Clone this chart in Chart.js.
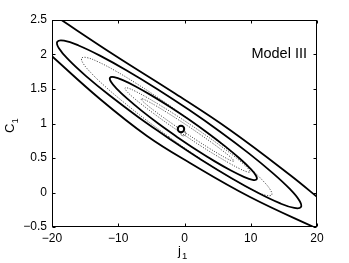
<!DOCTYPE html>
<html>
<head>
<meta charset="utf-8">
<script src="https://cdn.jsdelivr.net/npm/chart.js@4.4.1/dist/chart.umd.min.js"></script>
<style>
html,body{margin:0;padding:0;background:#fff;}
#wrap{width:349px;height:263px;}
</style>
</head>
<body>
<div id="wrap"><canvas id="c" width="349" height="263"></canvas></div>
<script>
// ---- data ----
const xTicks = [-20, -10, 0, 10, 20];
const yTicks = [-0.5, 0, 0.5, 1, 1.5, 2, 2.5];
const xRange = [-20, 20];
const yRange = [-0.5, 2.5];
const panelLabel = "Model III";

// outermost solid contour (only its two long sides are inside the frame)
const outerUpper = [[-19.55,2.562],[-10.49,1.986],[-1.43,1.435],[6.87,0.906],[15.93,0.254],[20.76,-0.123]];
const outerLower = [[-20.30,2.0],[-12.76,1.355],[-5.66,0.819],[0.83,0.428],[9.89,-0.065],[20.45,-0.543]];

// second solid contour
const contour2 = [[-2.292,0.778],[-7.001,1.095],[-11.288,1.405],[-14.862,1.687],[-17.477,1.921],[-18.957,2.091],
  [-19.2,2.186],[-18.189,2.2],[-15.995,2.131],[-12.766,1.984],[-8.722,1.769],[-4.138,1.501],[0.672,1.198],
  [5.381,0.881],[9.668,0.571],[13.242,0.289],[15.857,0.056],[17.337,-0.115],[17.58,-0.21],[16.57,-0.224],
  [14.375,-0.155],[11.146,-0.008],[7.102,0.207],[2.518,0.475],[-2.292,0.778]];

// inner solid contour
const contour3 = [[-1.077,0.802],[-3.911,0.997],[-6.491,1.187],[-8.64,1.36],[-10.212,1.503],[-11.101,1.606],
  [-11.244,1.664],[-10.633,1.671],[-9.31,1.628],[-7.364,1.537],[-4.927,1.404],[-2.167,1.239],[0.729,1.053],
  [3.563,0.858],[6.143,0.668],[8.292,0.496],[9.864,0.353],[10.753,0.249],[10.896,0.191],[10.285,0.184],
  [8.962,0.227],[7.016,0.318],[4.579,0.451],[1.819,0.616],[-1.077,0.802]];

// dotted contours
const dotted1 = [[-2.325,0.804],[-5.997,1.066],[-9.341,1.321],[-12.129,1.55],[-14.169,1.74],[-15.325,1.876],
  [-15.517,1.949],[-14.731,1.955],[-13.021,1.893],[-10.505,1.767],[-7.353,1.585],[-3.779,1.361],[-0.029,1.109],
  [3.643,0.847],[6.987,0.592],[9.775,0.363],[11.815,0.173],[12.971,0.037],[13.163,-0.036],[12.377,-0.042],
  [10.667,0.020],[8.151,0.146],[4.999,0.328],[1.425,0.552],[-2.325,0.804]];
const dotted2 = [[-0.063,0.835],[-2.487,0.994],[-4.711,1.149],[-6.583,1.286],[-7.975,1.397],[-8.793,1.476],
  [-8.981,1.515],[-8.526,1.513],[-7.459,1.469],[-5.853,1.387],[-3.817,1.272],[-1.491,1.133],[0.969,0.978],
  [3.393,0.818],[5.617,0.664],[7.489,0.526],[8.881,0.415],[9.699,0.336],[9.887,0.297],[9.432,0.30],
  [8.365,0.343],[6.759,0.425],[4.723,0.54],[2.397,0.679],[-0.063,0.835]];
const dotted3 = [[0.152,0.864],[-1.649,0.983],[-3.308,1.096],[-4.71,1.196],[-5.759,1.276],[-6.386,1.331],
  [-6.547,1.358],[-6.23,1.353],[-5.459,1.318],[-4.284,1.255],[-2.787,1.168],[-1.068,1.063],[0.754,0.948],
  [2.555,0.829],[4.214,0.716],[5.616,0.616],[6.665,0.536],[7.292,0.481],[7.453,0.455],[7.136,0.459],
  [6.365,0.494],[5.19,0.557],[3.693,0.644],[1.974,0.749],[0.152,0.864]];

// estimate markers
const bestFit = [[-0.53, 0.92]];
const altPoint = [[-0.18, 0.858]];

// ---- chart ----
const toXY = a => a.map(p => ({x: p[0], y: p[1]}));
const FONT = "'Liberation Sans', Arial, Helvetica, sans-serif";
const fmt = v => String(v).replace('-', '\u2212');

function solid(data, order){
  return {data: toXY(data), showLine: true, borderColor: '#000', borderWidth: 1.8,
    pointRadius: 0, tension: 0.4, clip: 0, order: order};
}
function dotted(data, order){
  return {data: toXY(data), showLine: true, borderColor: '#555', borderWidth: 1,
    borderDash: [1.2, 1.4], pointRadius: 0, tension: 0.4, clip: 0, order: order};
}

const decor = {
  id: 'decor',
  afterDatasetsDraw(chart){
    const {ctx, chartArea: a, scales: {x, y}} = chart;
    ctx.save();
    ctx.strokeStyle = '#000';
    ctx.lineWidth = 1;
    const L = Math.round(a.left) + 0.5, R = Math.round(a.right) - 0.5;
    const T = Math.round(a.top) + 0.5, B = Math.round(a.bottom) - 0.5;
    ctx.strokeRect(L, T, R - L, B - T);
    ctx.beginPath();
    xTicks.forEach(v => {
      const p = Math.round(x.getPixelForValue(v)) + 0.5;
      ctx.moveTo(p, B); ctx.lineTo(p, B - 3);
      ctx.moveTo(p, T); ctx.lineTo(p, T + 3);
    });
    yTicks.forEach(v => {
      const p = Math.round(y.getPixelForValue(v)) + 0.5;
      ctx.moveTo(L, p); ctx.lineTo(L + 3, p);
      ctx.moveTo(R, p); ctx.lineTo(R - 3, p);
    });
    ctx.stroke();

    ctx.fillStyle = '#000';
    ctx.font = '14.5px ' + FONT;
    ctx.textAlign = 'right';
    ctx.textBaseline = 'middle';
    ctx.fillText(panelLabel, 307, 54);
    ctx.textAlign = 'left';
    ctx.textBaseline = 'alphabetic';
    ctx.font = '13px ' + FONT;
    ctx.fillText('j', 178, 255);
    ctx.font = '9.5px ' + FONT;
    ctx.fillText('1', 182, 259);
    ctx.translate(14, 133);
    ctx.rotate(-Math.PI / 2);
    ctx.font = '13px ' + FONT;
    ctx.fillText('C', 0, 0);
    ctx.font = '9.5px ' + FONT;
    ctx.fillText('1', 9.5, 4);
    ctx.restore();
  }
};

new Chart(document.getElementById('c'), {
  type: 'scatter',
  data: {
    datasets: [
      {data: toXY(bestFit), pointRadius: 3.2, pointBorderWidth: 2, pointBorderColor: '#000',
        pointBackgroundColor: '#fff', order: 0},
      {data: toXY(altPoint), pointRadius: 2.6, pointBorderWidth: 0.8, pointBorderColor: '#777',
        pointBackgroundColor: 'rgba(255,255,255,0)', order: 1},
      solid(outerUpper, 2),
      solid(outerLower, 3),
      solid(contour2, 4),
      solid(contour3, 5),
      dotted(dotted1, 6),
      dotted(dotted2, 7),
      dotted(dotted3, 8)
    ]
  },
  options: {
    responsive: false,
    devicePixelRatio: 1,
    animation: false,
    events: [],
    layout: {padding: {top: 20, right: 32, left: 0, bottom: 0}},
    elements: {line: {capBezierPoints: false}},
    plugins: {legend: {display: false}, tooltip: {enabled: false}},
    scales: {
      x: {
        type: 'linear', min: xRange[0], max: xRange[1],
        afterBuildTicks: s => { s.ticks = xTicks.map(v => ({value: v})); },
        afterFit: s => { s.height = 36; },
        grid: {display: false, drawTicks: false},
        border: {display: false},
        ticks: {color: '#000', font: {family: FONT, size: 12}, padding: 4, callback: v => fmt(v), maxRotation: 0}
      },
      y: {
        type: 'linear', min: yRange[0], max: yRange[1],
        afterBuildTicks: s => { s.ticks = yTicks.map(v => ({value: v})); },
        afterFit: s => { s.width = 52; },
        grid: {display: false, drawTicks: false},
        border: {display: false},
        ticks: {color: '#000', font: {family: FONT, size: 12}, padding: 5, callback: v => fmt(v)}
      }
    }
  },
  plugins: [decor]
});
</script>
</body>
</html>
